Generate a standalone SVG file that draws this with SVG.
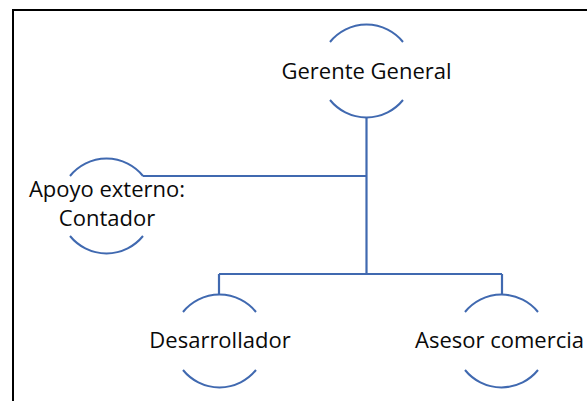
<svg xmlns="http://www.w3.org/2000/svg" width="587" height="401" viewBox="0 0 587 401">
  <style>
    .frame { fill: none; stroke: #000; stroke-width: 2; }
    .arc { fill: none; stroke: #4069B0; stroke-width: 2; }
    .link { fill: none; stroke: #4069B0; stroke-width: 2.2; }
    .label { font-family: "Open Sans", "Noto Sans", sans-serif; font-size: 22px; fill: #0a0a0a; text-anchor: middle; }
  </style>
  <rect width="587" height="401" fill="#fff"/>
  <rect class="frame" x="13" y="10" width="600" height="420"/>

  <g id="connectors">
    <path class="link" d="M366.5 118 V274"/>
    <path class="link" d="M143 176 H366.5"/>
    <path class="link" d="M219 274 H502"/>
    <path class="link" d="M219 274 V294"/>
    <path class="link" d="M502 274 V294"/>
  </g>

  <g id="gerente-general">
    <path class="arc" d="M330 42 A47 47 0 0 1 403 42"/>
    <path class="arc" d="M330 100 A47 47 0 0 0 403 100"/>
    <text class="label" x="366.5" y="79">Gerente General</text>
  </g>

  <g id="apoyo-externo">
    <path class="arc" d="M70 176 A47 47 0 0 1 143 176"/>
    <path class="arc" d="M70 236 A47 47 0 0 0 143 236"/>
    <text class="label" x="107" y="197">Apoyo externo:</text>
    <text class="label" x="107" y="226">Contador</text>
  </g>

  <g id="desarrollador">
    <path class="arc" d="M183 312 A47 47 0 0 1 256 312"/>
    <path class="arc" d="M183 370 A47 47 0 0 0 256 370"/>
    <text class="label" x="220" y="348">Desarrollador</text>
  </g>

  <g id="asesor-comercial">
    <path class="arc" d="M465 312 A47 47 0 0 1 538 312"/>
    <path class="arc" d="M465 370 A47 47 0 0 0 538 370"/>
    <text class="label" x="415" y="348" style="text-anchor:start">Asesor comercia</text>
  </g>
</svg>
